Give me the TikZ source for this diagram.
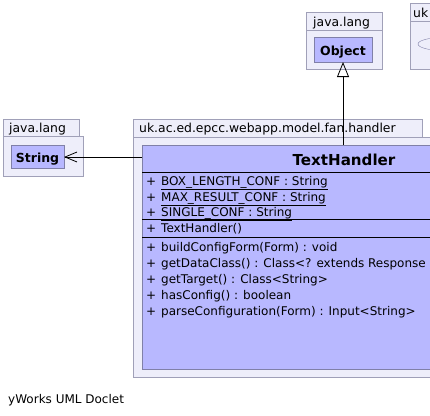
\documentclass[tikz,border=0pt]{standalone}
\usepackage{fontspec}
\setmainfont{DejaVu Sans}
\usetikzlibrary{arrows.meta,shapes.geometric}
\definecolor{pkgfill}{RGB}{238,238,250}
\definecolor{pkgline}{RGB}{160,160,184}
\definecolor{clsfill}{RGB}{184,184,255}
\definecolor{clsline}{RGB}{128,128,168}
\tikzset{
  pkgbox/.style={draw=pkgline,fill=pkgfill,line width=0.8pt,anchor=north west,inner sep=0pt,outer sep=0pt,rectangle},
  clsbox/.style={draw=clsline,fill=clsfill,line width=0.8pt,anchor=north west,inner sep=0pt,outer sep=0pt,rectangle},
  lbl/.style={anchor=base west,inner sep=0pt,font=\fontsize{12.4}{15}\selectfont},
  foot/.style={anchor=base west,inner sep=0pt,font=\fontsize{12}{14}\selectfont},
  bold/.style={anchor=base,inner sep=0pt,font=\fontsize{12.5}{14}\selectfont\bfseries},
  member/.style={anchor=base west,inner sep=0pt,font=\fontsize{12}{15}\selectfont}
}
\newcommand{\pl}{\makebox[15pt][l]{+}}
\begin{document}
\begin{tikzpicture}[x=1pt,y=-1pt]
\useasboundingbox (0,0) rectangle (430,415);
\clip (0,0) rectangle (430,415);
\fill[white] (0,0) rectangle (430,415);
% right partial package
\node[pkgbox,minimum width=60pt,minimum height=18pt] (rtab) at (410,3) {};
\node[pkgbox,minimum width=60pt,minimum height=48pt] (rbody) at (410,21) {};
\node[lbl] (rlbl) at (413,17) {uk};
\node[draw=clsline,fill=pkgfill,ellipse,minimum width=50pt,minimum height=13pt,inner sep=0pt] (rell) at (443,44) {};
% Object package
\node[pkgbox,minimum width=76pt,minimum height=18pt] (otab) at (306,12) {};
\node[pkgbox,minimum width=76pt,minimum height=39pt] (obody) at (306,30) {};
\node[lbl] (olbl) at (313,26) {java.lang};
\node[clsbox,minimum width=58pt,minimum height=25pt] (object) at (314,37) {};
\node[bold] (oname) at (343,55) {Object};
% String package
\node[pkgbox,minimum width=76pt,minimum height=17pt] (stab) at (3,119) {};
\node[pkgbox,minimum width=80pt,minimum height=40pt] (sbody) at (3,136) {};
\node[lbl] (slbl) at (9,132) {java.lang};
\node[clsbox,minimum width=53pt,minimum height=23pt] (string) at (11,145) {};
\node[bold] (sname) at (37.5,162) {String};
% main package
\node[pkgbox,minimum width=289pt,minimum height=18pt] (mtab) at (133,119) {};
\node[pkgbox,minimum width=420pt,minimum height=240pt] (mbody) at (133,137) {};
\node[lbl] (mlbl) at (139,132) {uk.ac.ed.epcc.webapp.model.fan.handler};
% TextHandler class
\node[clsbox,minimum width=406pt,minimum height=224pt] (th) at (142,145) {};
\draw[line width=0.8pt] (142,172) -- (560,172);
\draw[line width=0.8pt] (142,219) -- (560,219);
\draw[line width=0.8pt] (142,237) -- (560,237);
\node[anchor=base,inner sep=0pt,font=\fontsize{15.1}{18}\selectfont\bfseries] (thname) at (344,165) {TextHandler};
\node[member] (a1) at (146,185) {\pl\underline{BOX\_LENGTH\_CONF : String}};
\node[member] (a2) at (146,201) {\pl\underline{MAX\_RESULT\_CONF : String}};
\node[member] (a3) at (146,216) {\pl\underline{SINGLE\_CONF : String}};
\node[member] (c1) at (146,232) {\pl TextHandler()};
\node[member] (m1) at (146,251) {\pl buildConfigForm(Form) : void};
\node[member] (m2) at (146,267) {\pl getDataClass() : Class<? extends Response};
\node[member] (m3) at (146,283) {\pl getTarget() : Class<String>};
\node[member] (m4) at (146,299) {\pl hasConfig() : boolean};
\node[member] (m5) at (146,315) {\pl parseConfiguration(Form) : Input<String>};
% connectors
\coordinate (thtop) at (343,145);
\coordinate (thleft) at (142,157);
\draw[line width=0.8pt,-{Triangle[open,length=15pt,width=12pt]}] (thtop) -- (object.south);
\draw[line width=0.8pt,-{Straight Barb[length=12pt,width=10pt]}] (thleft) -- (string.east |- thleft);
% footer
\node[foot] (footer) at (8,403) {yWorks UML Doclet};
\end{tikzpicture}
\end{document}
